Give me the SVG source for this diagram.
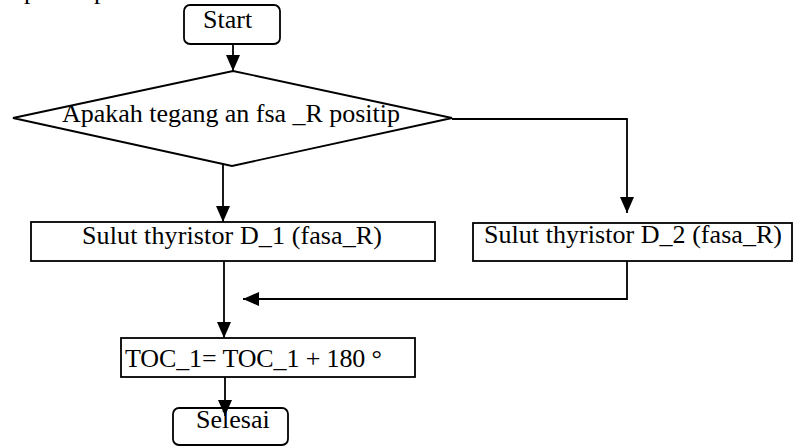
<svg xmlns="http://www.w3.org/2000/svg" width="793" height="446" viewBox="0 0 793 446">
<style>
  .shape { fill: #ffffff; stroke: #000000; stroke-width: 1.8; }
  .conn { fill: none; stroke: #000000; stroke-width: 1.8; }
  .lbl { font-family: 'Liberation Serif', 'Times New Roman', serif; font-size: 26px; fill: #000000; }
</style>
<defs>
  <marker id="arrow" markerUnits="userSpaceOnUse" markerWidth="17" markerHeight="17" viewBox="0 0 17 17" refX="16" refY="8.5" orient="auto">
    <path d="M0,1.5 L16,8.5 L0,15.5 Z" fill="#000000"/>
  </marker>
</defs>
<rect width="793" height="446" fill="#ffffff"/>
<g id="cropped-text">
  <text class="lbl" x="24" y="-1">p</text>
  <text class="lbl" x="94" y="-1">p</text>
</g>
<g id="start">
  <rect class="shape" x="184" y="5" width="96" height="39" rx="6" ry="6"/>
  <text class="lbl" x="203" y="28">Start</text>
</g>
<g id="decision">
  <polygon class="shape" points="233,71 452,118 232,166 13,118"/>
  <text class="lbl" x="62" y="122" textLength="338" lengthAdjust="spacing">Apakah tegang an fsa _R positip</text>
</g>
<g id="fire-d1">
  <rect class="shape" x="31" y="222" width="404" height="39"/>
  <text class="lbl" x="82" y="244" textLength="300" lengthAdjust="spacing">Sulut thyristor D_1 (fasa_R)</text>
</g>
<g id="fire-d2">
  <rect class="shape" x="473" y="223" width="319" height="38"/>
  <text class="lbl" x="484" y="243" textLength="298" lengthAdjust="spacing">Sulut thyristor D_2 (fasa_R)</text>
</g>
<g id="toc">
  <rect class="shape" x="121" y="338" width="294" height="39"/>
  <text class="lbl" x="125" y="367" textLength="257" lengthAdjust="spacing">TOC_1= TOC_1 + 180 °</text>
</g>
<g id="selesai">
  <rect class="shape" x="173" y="408" width="115" height="37" rx="6" ry="6"/>
  <text class="lbl" x="196" y="428">Selesai</text>
</g>
<g id="connectors">
  <line class="conn" x1="233" y1="44" x2="233" y2="71" marker-end="url(#arrow)"/>
  <line class="conn" x1="223" y1="164" x2="223" y2="222" marker-end="url(#arrow)"/>
  <polyline class="conn" points="452,119 627,119 627,213" marker-end="url(#arrow)"/>
  <polyline class="conn" points="627,261 627,299 243,299" marker-end="url(#arrow)"/>
  <line class="conn" x1="224" y1="261" x2="224" y2="338" marker-end="url(#arrow)"/>
  <line class="conn" x1="225" y1="377" x2="225" y2="416" marker-end="url(#arrow)"/>
</g>
</svg>
